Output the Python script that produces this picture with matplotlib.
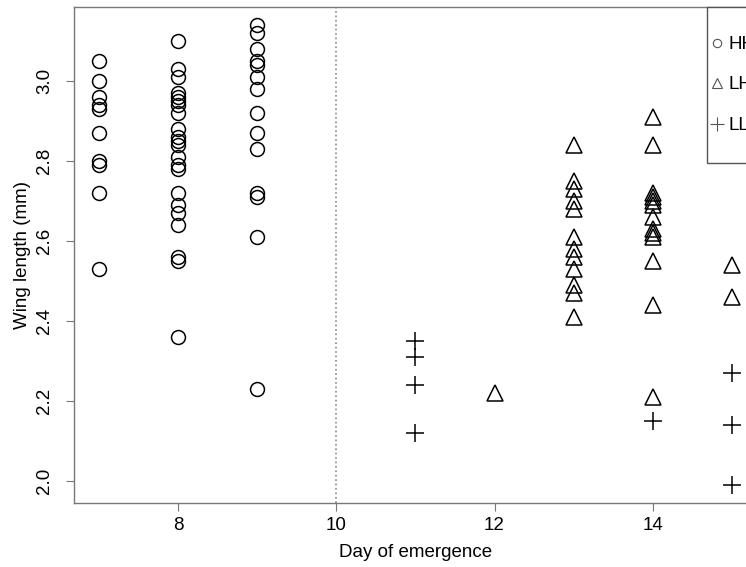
import numpy as np
import matplotlib
matplotlib.use("Agg")
import matplotlib.pyplot as plt
from matplotlib.patches import Rectangle

# ----------------------------
# Data
# ----------------------------
hh_day7 = [3.05, 3.00, 2.96, 2.94, 2.93, 2.87, 2.80, 2.79, 2.72, 2.53]
hh_day8 = [3.10, 3.03, 3.01, 2.97, 2.96, 2.95, 2.94, 2.92, 2.88, 2.86, 2.85,
           2.84, 2.81, 2.79, 2.78, 2.72, 2.69, 2.67, 2.64, 2.56, 2.55, 2.36]
hh_day9 = [3.14, 3.12, 3.08, 3.05, 3.04, 3.01, 2.98, 2.92, 2.87, 2.83,
           2.72, 2.71, 2.61, 2.23]

lh_day12 = [2.22]
lh_day13 = [2.84, 2.75, 2.73, 2.70, 2.68, 2.61, 2.58, 2.56, 2.53, 2.49, 2.47, 2.41]
lh_day14 = [2.91, 2.84, 2.72, 2.71, 2.70, 2.69, 2.66, 2.63, 2.62, 2.61,
            2.55, 2.44, 2.21]
lh_day15 = [2.54, 2.46]

ll_day11 = [2.35, 2.31, 2.24, 2.12]
ll_day14 = [2.15]
ll_day15 = [2.27, 2.14, 1.99]

groups = {
    "HH": {7: hh_day7, 8: hh_day8, 9: hh_day9},
    "LH": {12: lh_day12, 13: lh_day13, 14: lh_day14, 15: lh_day15},
    "LL": {11: ll_day11, 14: ll_day14, 15: ll_day15},
}
markers = {"HH": ("o", 10), "LH": ("^", 12), "LL": ("+", 13.5)}

x_ticks = [8, 10, 12, 14]
y_ticks = [2.0, 2.2, 2.4, 2.6, 2.8, 3.0]

# ----------------------------
# Figure
# ----------------------------
plt.rcParams['font.family'] = ['Liberation Sans', 'DejaVu Sans']
plt.rcParams['font.size'] = 13.5

fig = plt.figure(figsize=(7.46, 5.67), dpi=100)
ax = fig.add_axes([0.0992, 0.1129, 0.9155, 0.8748])

for name, days in groups.items():
    xs, ys = [], []
    for d, vals in days.items():
        xs += [d] * len(vals)
        ys += vals
    m, ms = markers[name]
    if m == "+":
        ax.plot(xs, ys, linestyle="none", marker=m, markersize=ms,
                color="black", markeredgewidth=1.1)
    else:
        ax.plot(xs, ys, linestyle="none", marker=m, markersize=ms,
                markerfacecolor="none", markeredgecolor="black",
                markeredgewidth=1.1)

ax.axvline(10, color="#888888", linestyle=":", linewidth=1.2)

ax.set_xlim(6.68, 15.32)
ax.set_ylim(1.944, 3.186)
ax.set_xticks(x_ticks)
ax.set_xticklabels([str(t) for t in x_ticks])
ax.set_yticks(y_ticks)
ax.set_yticklabels(["%.1f" % t for t in y_ticks], rotation=90, va="center")

for s in ax.spines.values():
    s.set_color("#777777")
    s.set_linewidth(1.0)
ax.tick_params(direction="out", length=6, color="#777777", pad=4)
ax.tick_params(axis="y", pad=9)

ax.set_xlabel("Day of emergence", labelpad=7)
ax.set_ylabel("Wing length (mm)", labelpad=4)

# ----------------------------
# Legend (drawn by hand, R style, partly off the right edge)
# ----------------------------
leg_names = ["HH", "LH", "LL"]
leg_sizes = {"HH": 6, "LH": 7, "LL": 10}
leg_y = [0.9274, 0.8468, 0.7641]
ax.add_patch(Rectangle((0.9268, 0.6855), 0.2, 0.3145, transform=ax.transAxes,
                       facecolor="white", edgecolor="#555555", linewidth=1.0,
                       clip_on=False, zorder=5))
for name, yy in zip(leg_names, leg_y):
    m = markers[name][0]
    if m == "+":
        ax.plot([0.9415], [yy], transform=ax.transAxes, linestyle="none",
                marker=m, markersize=leg_sizes[name], color="#555555",
                markeredgewidth=0.8, clip_on=False, zorder=6)
    else:
        ax.plot([0.9415], [yy], transform=ax.transAxes, linestyle="none",
                marker=m, markersize=leg_sizes[name], markerfacecolor="none",
                markeredgecolor="#555555", markeredgewidth=0.8,
                clip_on=False, zorder=6)
    ax.text(0.9590, yy, name, transform=ax.transAxes, ha="left",
            va="center_baseline", fontsize=13.5, zorder=6, clip_on=False)

fig.savefig("out.png", dpi=100)
